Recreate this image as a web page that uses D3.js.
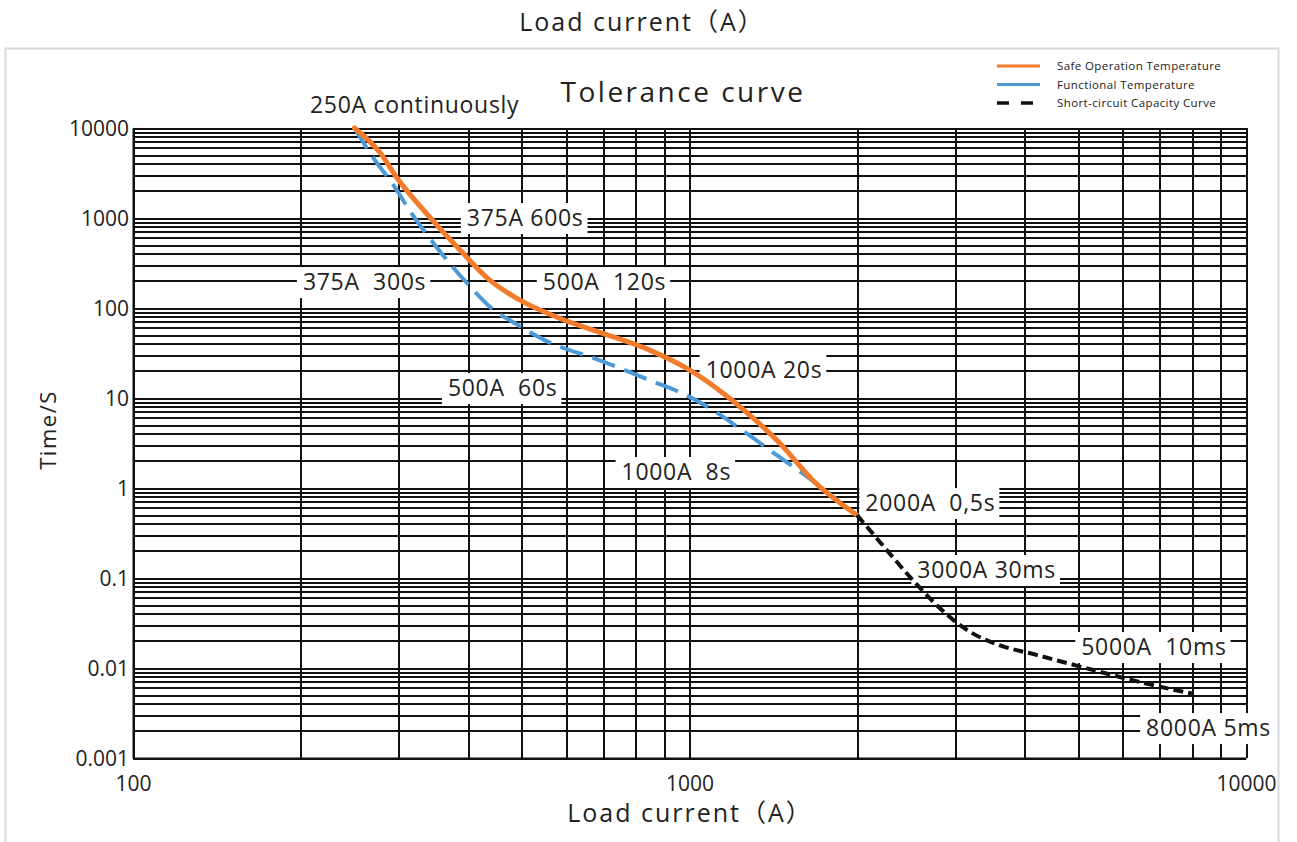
<!DOCTYPE html>
<html>
<head>
<meta charset="utf-8">
<script src="https://cdn.jsdelivr.net/npm/d3@7/dist/d3.min.js"></script>
<style>
  body { margin: 0; background: #fff; }
  svg text { font-family: "Open Sans", "Noto Sans", "Noto Sans CJK SC", sans-serif; fill: #222; }
</style>
</head>
<body>
<svg id="chart" width="1297" height="842"></svg>
<script>
// Safe Operation Temperature (A, s)
var safeCurrent = [250, 278, 298, 341, 387, 437, 495, 584, 688, 848, 1000, 1117, 1282, 1452, 1663, 2000];
var safeTime    = [10000, 5300, 2800, 1030, 441, 205, 123, 77, 54, 34, 20.5, 12.9, 6.5, 3.16, 1.23, 0.5];

// Functional Temperature
var funcCurrent = [250, 272, 292, 318, 351, 398, 450, 475, 549, 688, 848, 1000, 1100, 1256, 1433, 1628, 1860];
var funcTime    = [10000, 4400, 2450, 1080, 476, 190, 90, 73.6, 44, 26.4, 15.8, 10.3, 7.4, 4.2, 2.33, 1.33, 0.7];

// Short-circuit Capacity Curve
var shortCurrent = [2000, 2200, 2500, 2800, 3000, 3200, 3600, 4200, 5000, 6000, 7000, 8000];
var shortTime    = [0.5, 0.25, 0.1, 0.048, 0.033, 0.025, 0.018, 0.014, 0.0105, 0.0078, 0.0062, 0.0052];

var xTickValues = [100, 1000, 10000];
var xTickLabels = ["100", "1000", "10000"];
var yTickValues = [0.001, 0.01, 0.1, 1, 10, 100, 1000, 10000];
var yTickLabels = ["0.001", "0.01", "0.1", "1", "10", "100", "1000", "10000"];

// annotations, anchored in data units (left edge / middle)
var annotText    = ["250A continuously", "375A 600s", "375A  300s", "500A  120s", "1000A 20s", "500A  60s", "1000A  8s", "2000A  0,5s", "3000A 30ms", "5000A  10ms", "8000A 5ms"];
var annotCurrent = [208, 398, 202, 545, 1069, 368, 755, 2070, 2567, 5057, 6615];
var annotTime    = [18000, 1000, 194, 194, 20.5, 12.9, 1.506, 0.681, 0.1227, 0.0171, 0.00215];

var legendNames  = ["Safe Operation Temperature", "Functional Temperature", "Short-circuit Capacity Curve"];
var legendColors = ["#f27b2c", "#4d9ad6", "#111"];

(function ToleranceChart() {
    var svg = d3.select("#chart");
    var left = 133, right = 1246, top = 128, bottom = 758;

    var x = d3.scaleLog().domain([100, 10000]).range([left, right]);
    var y = d3.scaleLog().domain([0.001, 10000]).range([bottom, top]);

    // outer light frame
    svg.append("rect")
       .attr("x", 5.5).attr("y", 48.5)
       .attr("width", 1273).attr("height", 900)
       .attr("fill", "none")
       .attr("stroke", "#d9d9d9")
       .attr("stroke-width", 2);

    // grid via axes
    var xAxis = d3.axisBottom(x)
                  .tickValues(x.ticks())
                  .tickSize(-(bottom - top))
                  .tickSizeOuter(0)
                  .tickPadding(18)
                  .tickFormat(function(d) {
                      var i = xTickValues.indexOf(d);
                      return i >= 0 ? xTickLabels[i] : "";
                  });

    var yAxis = d3.axisLeft(y)
                  .tickValues(y.ticks())
                  .tickSize(-(right - left))
                  .tickSizeOuter(0)
                  .tickPadding(4)
                  .tickFormat(function(d) {
                      var i = yTickValues.findIndex(function(v) { return Math.abs(v - d) / v < 1e-6; });
                      return i >= 0 ? yTickLabels[i] : "";
                  });

    var gx = svg.append("g")
                .attr("transform", "translate(0," + bottom + ")")
                .call(xAxis);
    var gy = svg.append("g")
                .attr("transform", "translate(" + left + ",0)")
                .call(yAxis);

    [gx, gy].forEach(function(g) {
        g.select(".domain").attr("stroke", "#111").attr("stroke-width", 2);
        g.selectAll(".tick line")
         .attr("stroke", "#111")
         .attr("stroke-width", 2)
         .attr("shape-rendering", "crispEdges");
        g.selectAll(".tick text")
         .style("font-size", "21px")
         .style("font-family", "'Open Sans', sans-serif")
         .attr("fill", "#222");
    });
    gy.selectAll(".tick text").attr("dy", "0.36em");

    // annotation boxes (white, behind curves)
    var annot = annotText.map(function(t, i) {
        return { text: t, cx: x(annotCurrent[i]), cy: y(annotTime[i]) };
    });

    var boxG = svg.append("g");
    var curveG = svg.append("g");
    var textG = svg.append("g");

    var texts = textG.selectAll("text")
                     .data(annot)
                     .enter().append("text")
                     .attr("x", function(d) { return d.cx; })
                     .attr("y", function(d) { return d.cy; })
                     .attr("dy", "0.36em")
                     .style("font-size", "23px")
                     .style("letter-spacing", "0.7px")
                     .style("white-space", "pre")
                     .text(function(d) { return d.text; });

    texts.each(function(d) {
        var b = this.getBBox();
        boxG.append("rect")
            .attr("x", b.x - 6)
            .attr("y", d.cy - 15)
            .attr("width", b.width + 10)
            .attr("height", 31)
            .attr("fill", "#fff");
    });

    var line = d3.line()
                 .x(function(d) { return x(d[0]); })
                 .y(function(d) { return y(d[1]); })
                 .curve(d3.curveMonotoneX);

    var funcData = d3.zip(funcCurrent, funcTime);
    var safeData = d3.zip(safeCurrent, safeTime);
    var shortData = d3.zip(shortCurrent, shortTime);

    curveG.append("path")
          .attr("d", line(funcData))
          .attr("fill", "none")
          .attr("stroke", legendColors[1])
          .attr("stroke-width", 4)
          .attr("stroke-dasharray", "24,10");

    curveG.append("path")
          .attr("d", line(safeData))
          .attr("fill", "none")
          .attr("stroke", legendColors[0])
          .attr("stroke-width", 5)
          .attr("stroke-linecap", "round");

    curveG.append("path")
          .attr("d", line(shortData))
          .attr("fill", "none")
          .attr("stroke", legendColors[2])
          .attr("stroke-width", 4)
          .attr("stroke-dasharray", "10,5");

    // titles
    svg.append("text")
       .attr("x", 642).attr("y", 22).attr("dy", "0.36em")
       .attr("text-anchor", "middle")
       .style("font-size", "25px")
       .style("letter-spacing", "2px")
       .text("Load current（A）");

    svg.append("text")
       .attr("x", 690).attr("y", 813).attr("dy", "0.36em")
       .attr("text-anchor", "middle")
       .style("font-size", "25px")
       .style("letter-spacing", "2px")
       .text("Load current（A）");

    svg.append("text")
       .attr("x", 683).attr("y", 92).attr("dy", "0.36em")
       .attr("text-anchor", "middle")
       .style("font-size", "28px")
       .style("letter-spacing", "2.5px")
       .text("Tolerance curve");

    svg.append("text")
       .attr("transform", "translate(48,430) rotate(-90)")
       .attr("dy", "0.36em")
       .attr("text-anchor", "middle")
       .style("font-size", "22px")
       .style("letter-spacing", "1.5px")
       .text("Time/S");

    // legend
    var lg = svg.append("g").attr("transform", "translate(997,66)");
    var item = lg.selectAll("g")
                 .data(legendNames)
                 .enter().append("g")
                 .attr("transform", function(d, i) { return "translate(0," + (i * 18.5) + ")"; });

    item.append("line")
        .attr("x1", 0).attr("x2", 43)
        .attr("stroke", function(d, i) { return legendColors[i]; })
        .attr("stroke-width", function(d, i) { return i === 2 ? 3.5 : 3; })
        .attr("stroke-dasharray", function(d, i) { return i === 2 ? "12,12" : null; });

    item.append("text")
        .attr("x", 60)
        .attr("dy", "0.35em")
        .style("font-size", "11.5px")
        .style("letter-spacing", "0.4px")
        .attr("fill", "#333")
        .text(function(d) { return d; });
}());
</script>
</body>
</html>
